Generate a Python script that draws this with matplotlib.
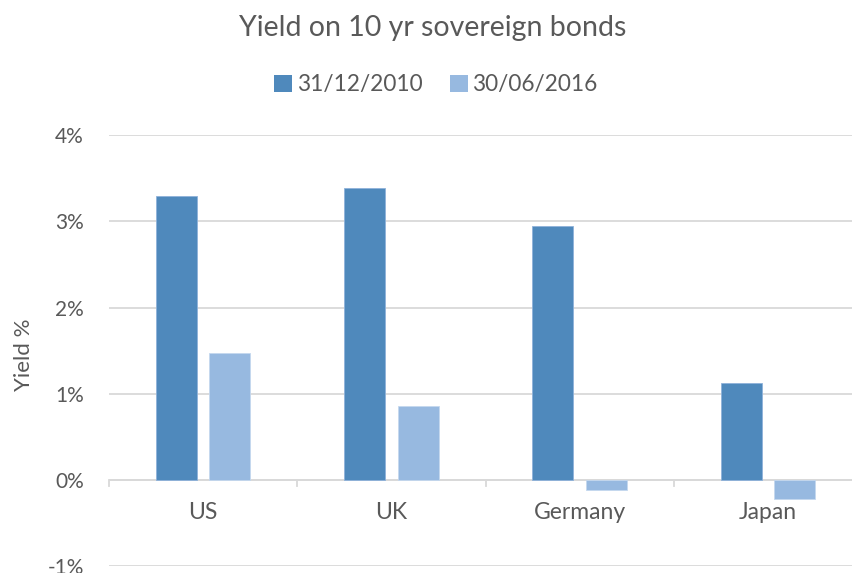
import matplotlib
matplotlib.use("Agg")
import matplotlib.pyplot as plt
from matplotlib.patches import Patch
import numpy as np

plt.rcParams['font.family'] = ['Lato', 'DejaVu Sans']

countries = ["US", "UK", "Germany", "Japan"]
series_names = ["31/12/2010", "30/06/2016"]
yield_2010 = [3.29, 3.39, 2.95, 1.12]
yield_2016 = [1.47, 0.86, -0.12, -0.22]
yticks = [-1, 0, 1, 2, 3, 4]
ytick_labels = ["-1%", "0%", "1%", "2%", "3%", "4%"]

c_dark = "#4F89BC"
c_light = "#97B9E0"
txt = "#595959"
grid = "#D9D9D9"

W, H = 852, 573
fig = plt.figure(figsize=(W/100, H/100), dpi=100)
ax = fig.add_axes([109/W, 7/H, 753/W, (566-135.3)/H])

x = np.arange(len(countries))
bw = 0.218
off = 0.142
ax.bar(x - off, yield_2010, bw, color=c_dark, edgecolor="#8FB2DA", linewidth=0.6, zorder=3)
ax.bar(x + off, yield_2016, bw, color=c_light, edgecolor="#C5D8EE", linewidth=0.6, zorder=3)

ax.set_xlim(-0.5, len(countries) - 0.5)
ax.set_ylim(-1, 4)
ax.set_yticks(yticks)
ax.set_yticklabels(ytick_labels)
ax.yaxis.grid(True, color=grid, linewidth=1.3, zorder=0)
ax.set_axisbelow(True)
for s in ax.spines.values():
    s.set_visible(False)
ax.axhline(0, color=grid, linewidth=1.3, zorder=2)

ax.tick_params(axis='y', length=0, pad=18, labelsize=15, labelcolor=txt)
ax.set_xticks(x)
ax.set_xticklabels(countries)
ax.tick_params(axis='x', length=0, labelsize=16, labelcolor=txt)
for lab in ax.get_xticklabels():
    lab.set_visible(False)
for i, c in enumerate(countries):
    ax.text(i, -0.38, c, ha='center', va='center', fontsize=16.5, color=txt)
for b in np.arange(-0.5, len(countries), 1.0):
    ax.plot([b, b], [0, -0.075], color=grid, linewidth=1.3, zorder=2, clip_on=False)

fig.text(24/W, 1 - 355/H, "Yield %", rotation=90, ha='center', va='center', fontsize=16, color=txt)
fig.text(433/W, 1 - 28/H, "Yield on 10 yr sovereign bonds", ha='center', va='center', fontsize=20.5, color=txt)

handles = [Patch(facecolor=c_dark), Patch(facecolor=c_light)]
leg = fig.legend(handles, series_names, loc='center', bbox_to_anchor=(436/W, 1 - 85/H), ncol=2,
                 frameon=False, fontsize=16.3, handlelength=0.8, handleheight=0.8,
                 handletextpad=0.2, columnspacing=1.2)
for t in leg.get_texts():
    t.set_color(txt)

fig.savefig("out.png", dpi=100)
